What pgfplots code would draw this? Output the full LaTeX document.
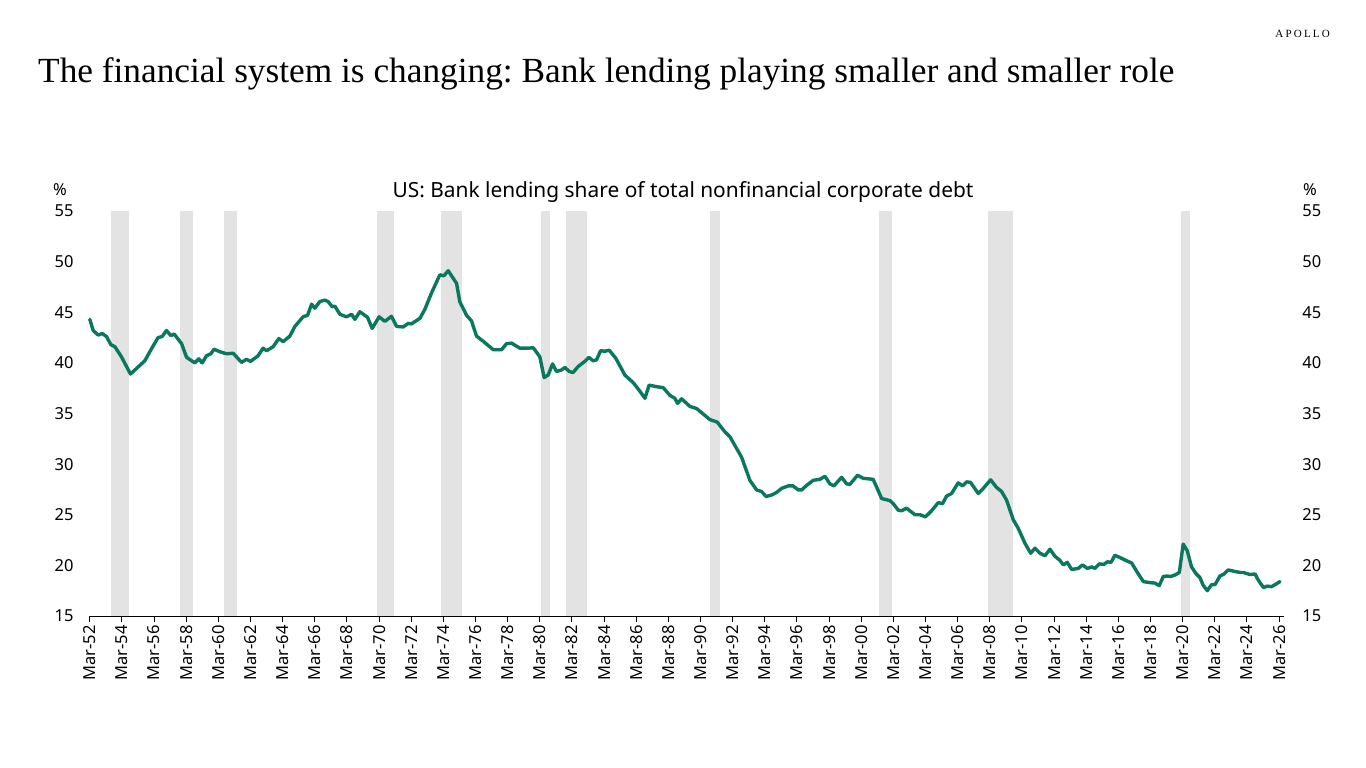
\documentclass[border=0pt]{standalone}
\usepackage{fontspec}
\setmainfont{Noto Sans}
\newfontfamily\titlefont{Liberation Serif}
\usepackage{pgfplots}
\pgfplotsset{compat=1.18}
\frenchspacing

\definecolor{lineteal}{RGB}{10,120,92}
\definecolor{recgray}{RGB}{227,227,227}

\begin{document}
\begin{tikzpicture}
\useasboundingbox (0,-768pt) rectangle (1366pt,0);

% title block
\node[anchor=base west, inner sep=0] at (38pt,-82pt)
  {\titlefont\fontsize{35.3}{36}\selectfont The financial system is changing: Bank lending playing smaller and smaller role};
\node[anchor=base east, inner sep=0] at (1330pt,-38pt)
  {\titlefont\fontsize{11}{11}\selectfont\addfontfeature{LetterSpace=20}APOLLO};
\node[inner sep=0] at (683pt,-192pt)
  {\fontsize{20.9}{21}\selectfont US: Bank lending share of total nonfinancial corporate debt};
\node[anchor=west, inner sep=0] at (53pt,-190pt) {\fontsize{16.5}{16}\selectfont\%};
\node[anchor=west, inner sep=0] at (1303pt,-190pt) {\fontsize{16.5}{16}\selectfont\%};

\begin{axis}[
  at={(89pt,-616pt)}, anchor=south west,
  scale only axis, width=1195pt, height=405pt,
  xmin=51.95, xmax=126.3, ymin=15, ymax=55,
  axis x line*=bottom, axis y line*=left,
  x axis line style={-, line width=1pt},
  y axis line style={draw=none},
  ytick={15,20,...,55}, ytick style={draw=none},
  xtick={52,54,...,126},
  xticklabels={Mar-52,Mar-54,Mar-56,Mar-58,Mar-60,Mar-62,Mar-64,Mar-66,Mar-68,Mar-70,
    Mar-72,Mar-74,Mar-76,Mar-78,Mar-80,Mar-82,Mar-84,Mar-86,Mar-88,Mar-90,Mar-92,
    Mar-94,Mar-96,Mar-98,Mar-00,Mar-02,Mar-04,Mar-06,Mar-08,Mar-10,Mar-12,Mar-14,
    Mar-16,Mar-18,Mar-20,Mar-22,Mar-24,Mar-26},
  xtick align=outside, major tick length=6pt,
  xtick style={black, line width=1pt},
  xticklabel style={rotate=90, anchor=east, font=\fontsize{16.5}{16}\selectfont},
  yticklabel style={font=\fontsize{16.5}{16}\selectfont, xshift=-12pt},
  /pgf/number format/assume math mode=true,
  clip=false,
]
% recessions
\fill[recgray] (axis cs:53.31,15) rectangle (axis cs:54.43,55);
\fill[recgray] (axis cs:57.60,15) rectangle (axis cs:58.41,55);
\fill[recgray] (axis cs:60.34,15) rectangle (axis cs:61.15,55);
\fill[recgray] (axis cs:69.86,15) rectangle (axis cs:70.92,55);
\fill[recgray] (axis cs:73.84,15) rectangle (axis cs:75.15,55);
\fill[recgray] (axis cs:80.06,15) rectangle (axis cs:80.63,55);
\fill[recgray] (axis cs:81.62,15) rectangle (axis cs:82.93,55);
\fill[recgray] (axis cs:90.58,15) rectangle (axis cs:91.21,55);
\fill[recgray] (axis cs:101.10,15) rectangle (axis cs:101.91,55);
\fill[recgray] (axis cs:107.88,15) rectangle (axis cs:109.44,55);
\fill[recgray] (axis cs:119.89,15) rectangle (axis cs:120.45,55);

\addplot[lineteal, line width=3.4pt, line join=round, line cap=round] coordinates {
(52.00,44.3)(52.21,43.2)(52.52,42.75)(52.77,42.9)(53.04,42.6)(53.31,41.8)(53.56,41.6)
(53.97,40.6)(54.53,38.9)(55.01,39.6)(55.42,40.2)(55.84,41.4)(56.25,42.5)(56.50,42.6)
(56.77,43.2)(57.04,42.7)(57.25,42.85)(57.71,41.9)(58.02,40.55)(58.53,40.0)(58.78,40.4)
(58.99,40.0)(59.26,40.7)(59.53,40.9)(59.73,41.35)(60.09,41.1)(60.51,40.9)(60.92,40.95)
(61.44,40.05)(61.75,40.35)(62.00,40.15)(62.47,40.7)(62.78,41.45)(63.00,41.2)(63.41,41.6)
(63.76,42.4)(64.03,42.1)(64.45,42.65)(64.76,43.6)(65.27,44.55)(65.55,44.7)(65.80,45.8)
(66.00,45.4)(66.31,46.05)(66.62,46.2)(66.83,46.05)(67.08,45.55)(67.25,45.6)(67.56,44.8)
(67.97,44.55)(68.29,44.8)(68.49,44.3)(68.80,45.05)(69.28,44.5)(69.57,43.4)(70.00,44.55)
(70.36,44.1)(70.77,44.6)(71.09,43.6)(71.50,43.55)(71.81,43.9)(72.01,43.85)(72.54,44.4)
(72.85,45.3)(73.26,46.9)(73.78,48.7)(74.03,48.6)(74.30,49.1)(74.82,47.85)(75.02,46.05)
(75.44,44.7)(75.75,44.15)(76.06,42.65)(76.58,42.0)(77.10,41.3)(77.62,41.3)(77.93,41.9)
(78.24,41.95)(78.76,41.45)(79.27,41.45)(79.59,41.5)(80.00,40.6)(80.27,38.55)(80.52,38.8)
(80.79,39.9)(81.04,39.15)(81.35,39.3)(81.56,39.55)(81.83,39.15)(82.07,39.05)(82.39,39.65)
(82.80,40.15)(83.05,40.55)(83.32,40.2)(83.53,40.3)(83.78,41.2)(84.05,41.15)(84.32,41.25)
(84.73,40.45)(85.29,38.8)(85.81,38.05)(86.18,37.3)(86.54,36.5)(86.80,37.8)(87.26,37.65)
(87.68,37.55)(88.09,36.8)(88.40,36.5)(88.57,36.0)(88.82,36.45)(89.34,35.7)(89.75,35.5)
(90.58,34.4)(91.04,34.15)(91.51,33.2)(91.83,32.7)(92.55,30.7)(93.07,28.4)(93.49,27.45)
(93.80,27.3)(94.07,26.8)(94.42,26.95)(94.73,27.2)(95.04,27.6)(95.45,27.85)(95.76,27.85)
(96.08,27.45)(96.29,27.45)(96.60,27.9)(97.01,28.4)(97.43,28.5)(97.74,28.8)(98.05,28.05)
(98.30,27.85)(98.78,28.7)(99.09,28.05)(99.29,28.0)(99.77,28.9)(100.12,28.6)(100.74,28.5)
(100.95,27.75)(101.27,26.6)(101.78,26.4)(101.99,26.1)(102.30,25.45)(102.51,25.4)
(102.82,25.65)(103.34,25.0)(103.65,25.0)(104.00,24.8)(104.38,25.4)(104.79,26.2)
(105.06,26.1)(105.31,26.85)(105.62,27.1)(106.03,28.15)(106.31,27.85)(106.55,28.25)
(106.80,28.2)(107.28,27.1)(107.59,27.6)(108.05,28.45)(108.42,27.7)(108.73,27.3)
(109.04,26.45)(109.46,24.5)(109.77,23.65)(110.18,22.2)(110.54,21.2)(110.81,21.7)
(111.12,21.2)(111.43,20.95)(111.74,21.6)(112.05,20.9)(112.36,20.5)(112.57,20.05)
(112.82,20.3)(113.09,19.6)(113.50,19.7)(113.77,20.05)(114.06,19.7)(114.34,19.85)
(114.54,19.7)(114.81,20.15)(115.10,20.1)(115.31,20.35)(115.54,20.3)(115.78,21.0)
(116.20,20.7)(116.51,20.45)(116.82,20.25)(117.14,19.4)(117.55,18.4)(117.96,18.3)
(118.27,18.25)(118.54,18.0)(118.79,18.9)(119.04,18.95)(119.25,18.9)(119.52,19.05)
(119.79,19.3)(120.03,22.1)(120.28,21.45)(120.55,19.85)(120.82,19.2)(121.07,18.8)
(121.27,18.05)(121.53,17.5)(121.80,18.1)(122.01,18.1)(122.32,18.95)(122.57,19.15)
(122.83,19.55)(123.25,19.4)(123.56,19.3)(123.77,19.3)(124.18,19.1)(124.50,19.15)
(124.70,18.55)(125.03,17.8)(125.24,17.95)(125.53,17.9)(125.80,18.15)(126.05,18.4)
};
\end{axis}

% right-hand value labels
\begin{axis}[
  at={(89pt,-616pt)}, anchor=south west,
  scale only axis, width=1195pt, height=405pt,
  xmin=51.95, xmax=126.3, ymin=15, ymax=55,
  axis line style={draw=none}, xtick=\empty,
  ytick={15,20,...,55}, ytick style={draw=none},
  yticklabel pos=right,
  yticklabel style={font=\fontsize{16.5}{16}\selectfont, anchor=west, xshift=15pt},
  /pgf/number format/assume math mode=true,
]
\addplot[draw=none] coordinates {(60,20)};
\end{axis}
\end{tikzpicture}
\end{document}
